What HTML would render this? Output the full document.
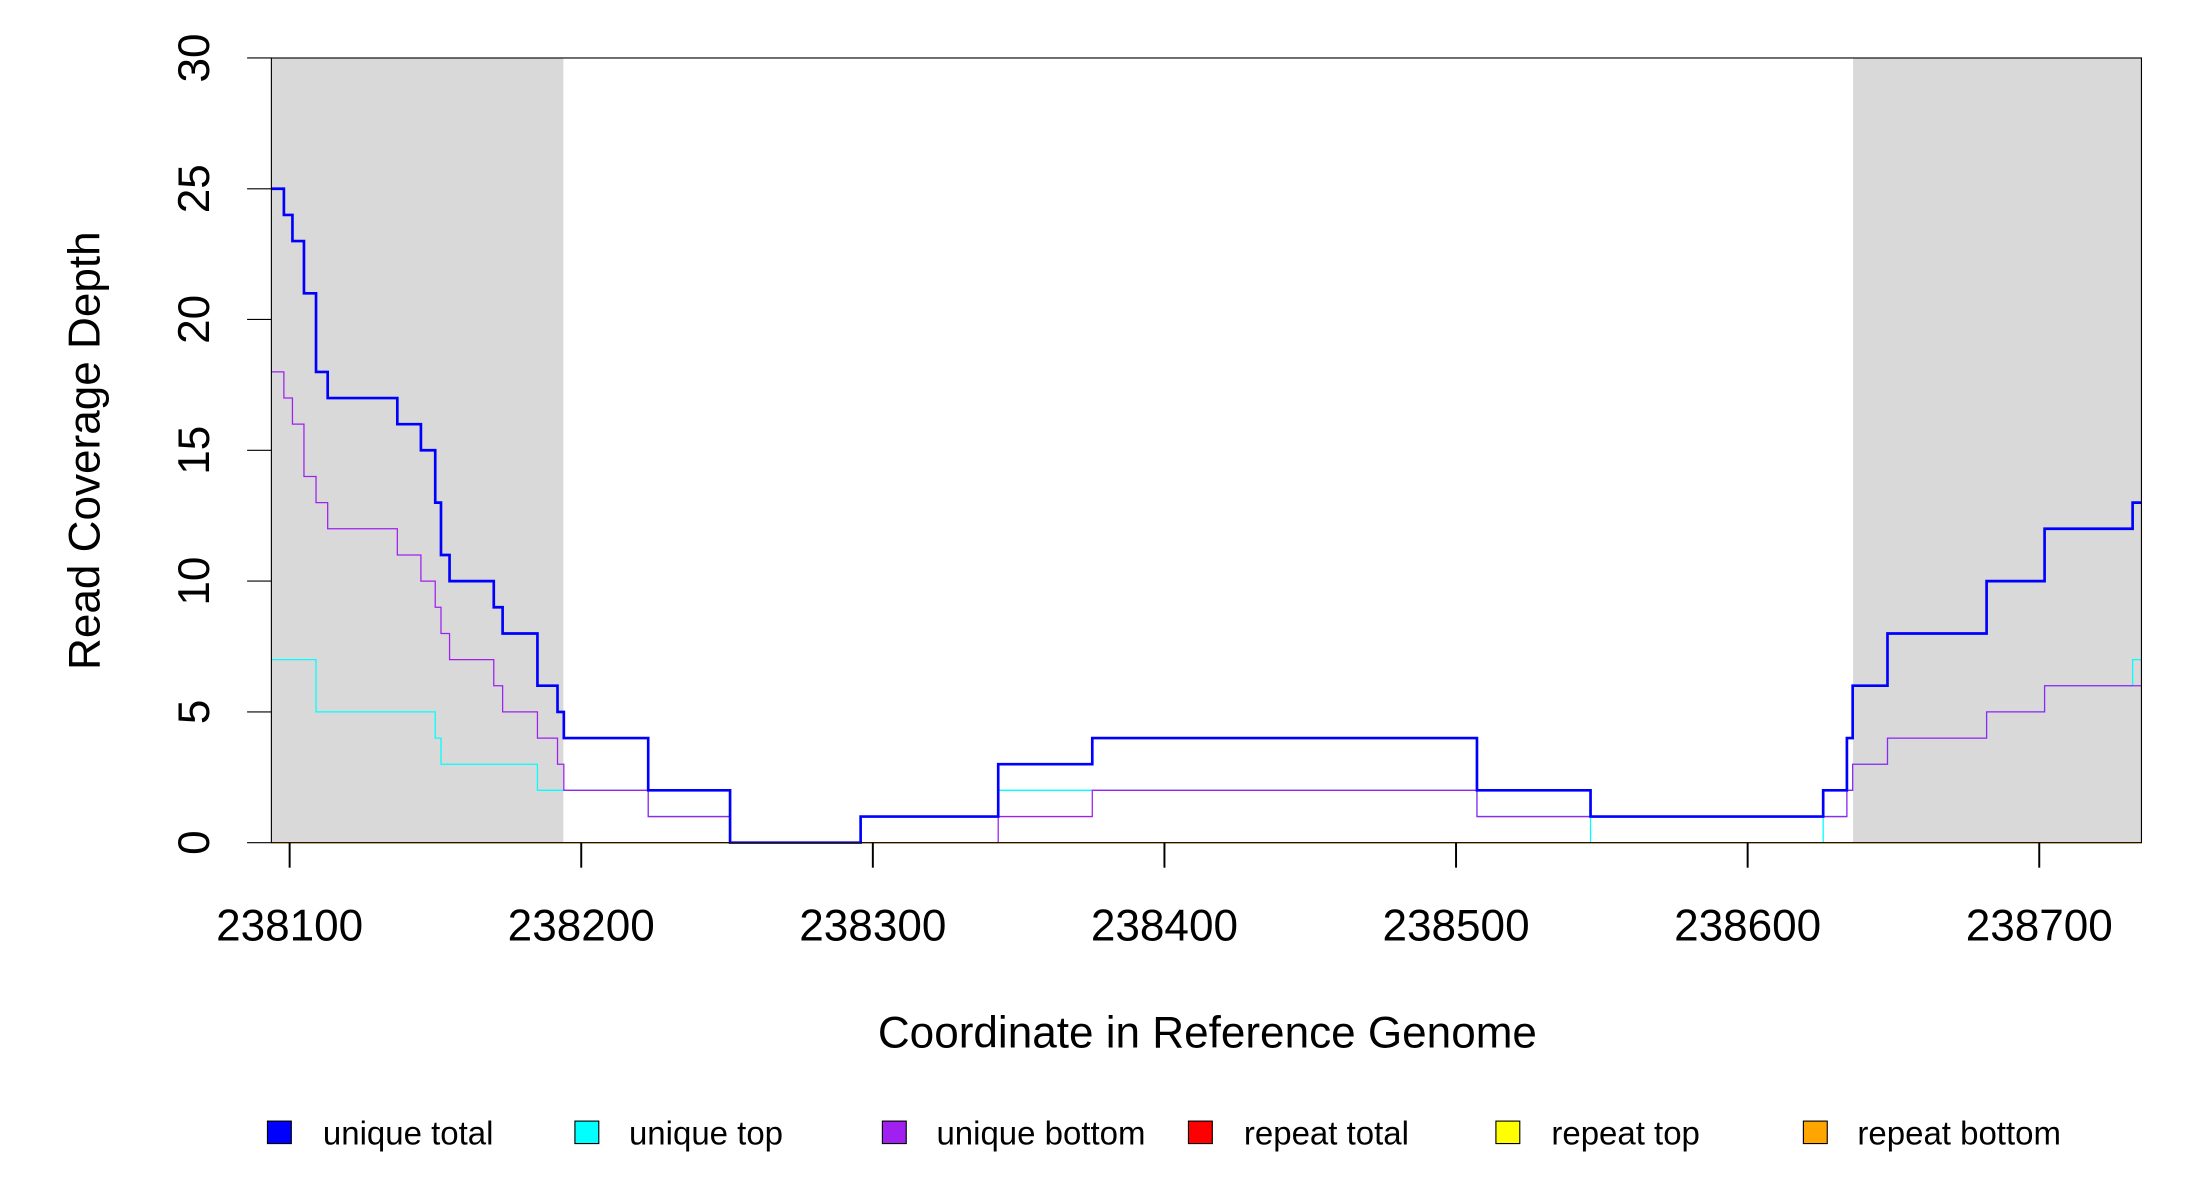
<!DOCTYPE html>
<html><head><style>html,body{margin:0;padding:0;background:#fff;}svg{display:block;}</style></head>
<body>
<svg width="2200" height="1200" viewBox="0 0 1567 854.7" preserveAspectRatio="none" xmlns="http://www.w3.org/2000/svg" font-family="Liberation Sans, Arial, sans-serif">
<rect x="0" y="0" width="1567" height="855" fill="#fff"/>
<rect x="193.3" y="41.3" width="208" height="558.9" fill="#d9d9d9"/>
<rect x="1319.9" y="41.3" width="205.4" height="558.9" fill="#d9d9d9"/>
<g fill="none" stroke-linejoin="miter">
<line x1="193.3" y1="600.2" x2="1525.3" y2="600.2" stroke="#ff0000" stroke-width="1"/>
<line x1="193.3" y1="600.2" x2="1525.3" y2="600.2" stroke="#ffff00" stroke-width="1"/>
<path stroke="#00ffff" stroke-width="0.9" d="M193.3,469.8 H225.1 V507.05 H310 V525.7 H314.1 V544.3 H382.8 V562.9 H461.7 V581.6 H520 V600.2 H613 V581.6 H711 V562.9 H1052 V581.6 H1132.9 V600.2 H1298.6 V581.6 H1315.5 V562.9 H1319.6 V544.3 H1344.4 V525.7 H1415 V507.05 H1456.3 V488.4 H1519 V469.8 H1525.3"/>
<path stroke="#a020f0" stroke-width="0.9" d="M193.3,264.9 H202.2 V283.5 H208.3 V302.1 H216.5 V339.4 H225.1 V358 H233.4 V376.6 H283 V395.3 H299.8 V413.9 H310 V432.5 H314.1 V451.2 H320.2 V469.8 H351.7 V488.4 H358 V507.05 H382.8 V525.7 H397.1 V544.3 H401.6 V562.9 H461.7 V581.6 H520 V600.2 H711 V581.6 H778 V562.9 H1052 V581.6 H1315.5 V562.9 H1319.6 V544.3 H1344.4 V525.7 H1415 V507.05 H1456.3 V488.4 H1525.3"/>
<path stroke="#0000ff" stroke-width="1.9" d="M193.3,134.45 H202.2 V153.1 H208.3 V171.7 H216.5 V208.9 H225.1 V264.9 H233.4 V283.5 H283 V302.1 H299.8 V320.7 H310 V358 H314.1 V395.3 H320.2 V413.9 H351.7 V432.5 H358 V451.2 H382.8 V488.4 H397.1 V507.05 H401.6 V525.7 H461.7 V562.9 H520 V600.2 H613 V581.6 H711 V544.3 H778 V525.7 H1052 V562.9 H1132.9 V581.6 H1298.6 V562.9 H1315.5 V525.7 H1319.6 V488.4 H1344.4 V451.2 H1415 V413.9 H1456.3 V376.6 H1519 V358 H1525.3"/>
<line x1="193.3" y1="600.2" x2="1525.3" y2="600.2" stroke="#ffa500" stroke-width="1"/>
</g>
<rect x="193.3" y="41.3" width="1332" height="558.9" fill="none" stroke="#000" stroke-width="0.8"/>
<g stroke="#000" stroke-width="0.8">
<line x1="176" y1="600.2" x2="193.3" y2="600.2"/>
<line x1="176" y1="507.05" x2="193.3" y2="507.05"/>
<line x1="176" y1="413.9" x2="193.3" y2="413.9"/>
<line x1="176" y1="320.7" x2="193.3" y2="320.7"/>
<line x1="176" y1="227.5" x2="193.3" y2="227.5"/>
<line x1="176" y1="134.45" x2="193.3" y2="134.45"/>
<line x1="176" y1="41.3" x2="193.3" y2="41.3"/>
</g>
<g stroke="#000" stroke-width="1.4">
<line x1="206.3" y1="600.2" x2="206.3" y2="618"/>
<line x1="414" y1="600.2" x2="414" y2="618"/>
<line x1="621.7" y1="600.2" x2="621.7" y2="618"/>
<line x1="829.4" y1="600.2" x2="829.4" y2="618"/>
<line x1="1037.1" y1="600.2" x2="1037.1" y2="618"/>
<line x1="1244.8" y1="600.2" x2="1244.8" y2="618"/>
<line x1="1452.5" y1="600.2" x2="1452.5" y2="618"/>
</g>
<g font-size="31.4" text-anchor="middle" fill="#000">
<text x="206.3" y="670">238100</text>
<text x="414" y="670">238200</text>
<text x="621.7" y="670">238300</text>
<text x="829.4" y="670">238400</text>
<text x="1037.1" y="670">238500</text>
<text x="1244.8" y="670">238600</text>
<text x="1452.5" y="670">238700</text>
<text x="860" y="746">Coordinate in Reference Genome</text>
<text transform="translate(148.8,600.2) rotate(-90)">0</text>
<text transform="translate(148.8,507.05) rotate(-90)">5</text>
<text transform="translate(148.8,413.9) rotate(-90)">10</text>
<text transform="translate(148.8,320.7) rotate(-90)">15</text>
<text transform="translate(148.8,227.5) rotate(-90)">20</text>
<text transform="translate(148.8,134.45) rotate(-90)">25</text>
<text transform="translate(148.8,41.3) rotate(-90)">30</text>
<text transform="translate(71,321) rotate(-90)">Read Coverage Depth</text>
</g>
<g stroke="#000" stroke-width="0.8">
<rect x="190.5" y="798.5" width="17" height="16" fill="#0000ff"/>
<rect x="409.5" y="798.5" width="17" height="16" fill="#00ffff"/>
<rect x="628.5" y="798.5" width="17" height="16" fill="#a020f0"/>
<rect x="846.5" y="798.5" width="17" height="16" fill="#ff0000"/>
<rect x="1065.5" y="798.5" width="17" height="16" fill="#ffff00"/>
<rect x="1284.5" y="798.5" width="17" height="16" fill="#ffa500"/>
</g>
<g font-size="23.5" fill="#000">
<text x="230" y="815">unique total</text>
<text x="448" y="815">unique top</text>
<text x="667" y="815">unique bottom</text>
<text x="886" y="815">repeat total</text>
<text x="1105" y="815">repeat top</text>
<text x="1323" y="815">repeat bottom</text>
</g>
</svg>
</body></html>
